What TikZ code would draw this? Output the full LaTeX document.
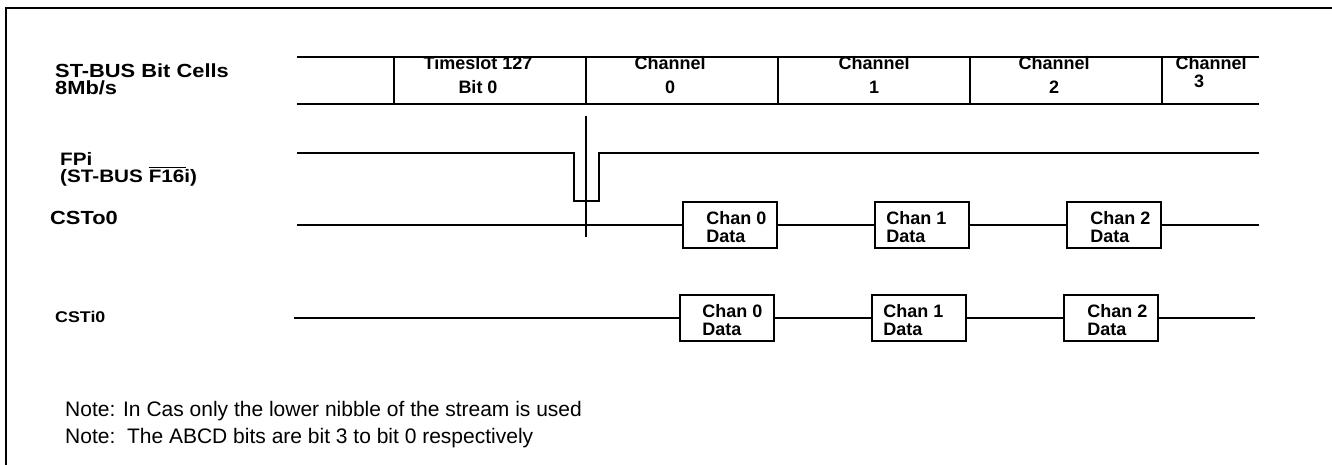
\documentclass[tikz,border=0pt]{standalone}
\usepackage{fontspec}
\setmainfont{Liberation Sans}
\newfontfamily\widesans{Liberation Sans}[FakeStretch=1.15]
\begin{document}
\begin{tikzpicture}[x=1pt, y=-1pt,
    sig/.style={line width=1.8pt},
    cell/.style={line width=2.2pt},
    lbl/.style={anchor=north west, inner sep=0pt, align=left},
    celltxt/.style={anchor=north, inner sep=0pt, align=center, font=\bfseries\fontsize{18}{24}\selectfont},
    databox/.style={draw, line width=1.8pt, minimum width=94pt, minimum height=46pt, inner sep=0pt},
    boxtxt/.style={anchor=west, inner sep=0pt, align=left, yshift=-2pt, font=\bfseries\fontsize{18}{18}\selectfont},
    note/.style={anchor=base west, inner sep=0pt, font=\fontsize{21}{25}\selectfont}
]
\useasboundingbox (0,0) rectangle (1332,465);

% Frame
\draw[line width=2pt] (6,465) -- (6,8) -- (1332,8);

% Signal names
\node[lbl, font=\widesans\bfseries\fontsize{19}{17}\selectfont] (cellname) at (55,64) {ST-BUS Bit Cells\\8Mb/s};
\node[lbl, font=\widesans\bfseries\fontsize{18}{17}\selectfont] (fpname) at (60,152) {FPi\\(ST-BUS \makebox[0pt][l]{\rule[14pt]{37pt}{1.6pt}}F16i)};
\node[lbl, font=\widesans\bfseries\fontsize{19}{19}\selectfont] (csoname) at (50,211) {CSTo0};
\node[lbl, font=\widesans\bfseries\fontsize{15.5}{15.5}\selectfont] (csiname) at (55,311) {CSTi0};

% Bit cells
\draw[cell] (297,57) -- (1259,57) (297,104) -- (1259,104);
\draw[cell] (394,57) -- (394,104) (586,57) -- (586,104) (778,57) -- (778,104)
            (970,57) -- (970,104) (1162,57) -- (1162,104);
\node[celltxt] (ts127) at (478,56) {Timeslot 127\\Bit 0};
\node[celltxt] (ch0) at (670,56) {Channel\\0};
\node[celltxt] (ch1) at (874,56) {Channel\\1};
\node[celltxt] (ch2) at (1054,56) {Channel\\2};
\node[celltxt, font=\bfseries\fontsize{18}{18}\selectfont] (ch3) at (1211,56) {Channel\\3\hspace*{24pt}};

% Frame pulse
\draw[sig] (297,153) -- (574,153) -- (574,201) -- (599,201) -- (599,153) -- (1259,153);
\draw[sig] (586,116) -- (586,237);

% CSTo0
\node[databox] (o0) at (730,225) {};
\node[databox] (o1) at (922,225) {};
\node[databox] (o2) at (1114,225) {};
\node[boxtxt] (o0txt) at ([xshift=24pt]o0.west) {Chan 0\\Data};
\node[boxtxt] (o1txt) at ([xshift=12pt]o1.west) {Chan 1\\Data};
\node[boxtxt] (o2txt) at ([xshift=24pt]o2.west) {Chan 2\\Data};
\coordinate (oin) at (297,225);
\coordinate (oout) at (1259,225);
\draw[sig] (oin) -- (o0.west) (o0.east) -- (o1.west) (o1.east) -- (o2.west) (o2.east) -- (oout);

% CSTi0
\node[databox] (i0) at (727,318) {};
\node[databox] (i1) at (919,318) {};
\node[databox] (i2) at (1111,318) {};
\node[boxtxt] (i0txt) at ([xshift=23pt]i0.west) {Chan 0\\Data};
\node[boxtxt] (i1txt) at ([xshift=12pt]i1.west) {Chan 1\\Data};
\node[boxtxt] (i2txt) at ([xshift=24pt]i2.west) {Chan 2\\Data};
\coordinate (iin) at (294,318);
\coordinate (iout) at (1255,318);
\draw[sig] (iin) -- (i0.west) (i0.east) -- (i1.west) (i1.east) -- (i2.west) (i2.east) -- (iout);

% Notes
\node[note] (note1) at (65,416) {Note: In Cas only the lower nibble of the stream is used};
\node[note] (note2) at (65,443) {Note:\ \ The ABCD bits are bit 3 to bit 0 respectively};

\end{tikzpicture}
\end{document}
